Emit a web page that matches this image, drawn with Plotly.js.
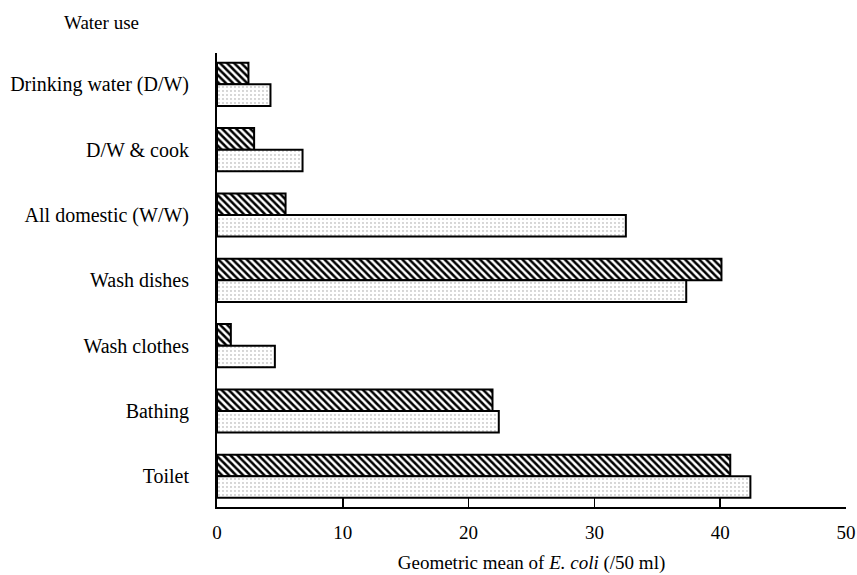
<!DOCTYPE html>
<html>
<head>
<meta charset="utf-8">
<script src="https://cdn.plot.ly/plotly-3.0.1.min.js"></script>
<style>
  html, body { margin: 0; padding: 0; background: #fff; }
  #chart { width: 857px; height: 575px; }
</style>
</head>
<body>
<div id="chart"></div>
<script>
// Categories (top to bottom)
var categories = [
  "Drinking water (D/W)",
  "D/W & cook",
  "All domestic (W/W)",
  "Wash dishes",
  "Wash clothes",
  "Bathing",
  "Toilet"
];
// Geometric mean of E. coli (/50 ml)
var hatchedValues = [2.5, 2.95, 5.45, 40.1, 1.1, 21.9, 40.8];
var dottedValues  = [4.25, 6.8, 32.5, 37.3, 4.6, 22.4, 42.4];
var xTickValues = [0, 10, 20, 30, 40, 50];
var xTickLabels = ["0", "10", "20", "30", "40", "50"];

var FONT = "Liberation Serif, Times New Roman, serif";

var traces = [
  {
    type: "bar",
    orientation: "h",
    name: "Hatched",
    y: categories,
    x: hatchedValues,
    marker: {
      color: "#ffffff",
      line: { color: "#000000", width: 2 },
      pattern: { shape: "\\", fgcolor: "#000000", bgcolor: "#ffffff", size: 5, solidity: 0.5 }
    },
    hoverinfo: "x+y"
  },
  {
    type: "bar",
    orientation: "h",
    name: "Dotted",
    y: categories,
    x: dottedValues,
    marker: {
      color: "#ffffff",
      line: { color: "#000000", width: 2 },
      pattern: { shape: ".", fgcolor: "#9a9a9a", bgcolor: "#ffffff", size: 4, solidity: 0.1 }
    },
    hoverinfo: "x+y"
  }
];

var layout = {
  width: 857,
  height: 575,
  paper_bgcolor: "#ffffff",
  plot_bgcolor: "#ffffff",
  showlegend: false,
  barmode: "group",
  bargap: 0.34,
  bargroupgap: 0,
  margin: { l: 217, r: 11, t: 53, b: 68, pad: 0 },
  font: { family: FONT, size: 19, color: "#000000" },
  xaxis: {
    range: [0, 50],
    tickvals: xTickValues,
    ticktext: xTickLabels,
    ticks: "inside",
    ticklen: 10,
    tickwidth: 1.5,
    tickcolor: "#000000",
    showline: true,
    linecolor: "#000000",
    linewidth: 2,
    showgrid: false,
    zeroline: false,
    ticklabelstandoff: 7,
    tickfont: { family: FONT, size: 19, color: "#000000" },
    title: {
      text: "Geometric mean of <i>E. coli</i> (/50 ml)",
      font: { family: FONT, size: 19, color: "#000000" },
      standoff: 14
    },
    fixedrange: true
  },
  yaxis: {
    type: "category",
    categoryorder: "array",
    categoryarray: categories,
    range: [6.47, -0.48],
    ticks: "",
    showline: true,
    linecolor: "#000000",
    linewidth: 2,
    showgrid: false,
    zeroline: false,
    ticklabelstandoff: 22,
    tickfont: { family: FONT, size: 20, color: "#000000" },
    fixedrange: true
  },
  annotations: [
    {
      text: "Water use",
      xref: "paper",
      yref: "paper",
      x: -0.1836,
      y: 1.0677,
      xanchor: "center",
      yanchor: "middle",
      showarrow: false,
      font: { family: FONT, size: 19, color: "#000000" }
    }
  ]
};

Plotly.newPlot("chart", traces, layout, { displayModeBar: false, staticPlot: true });
</script>
</body>
</html>
